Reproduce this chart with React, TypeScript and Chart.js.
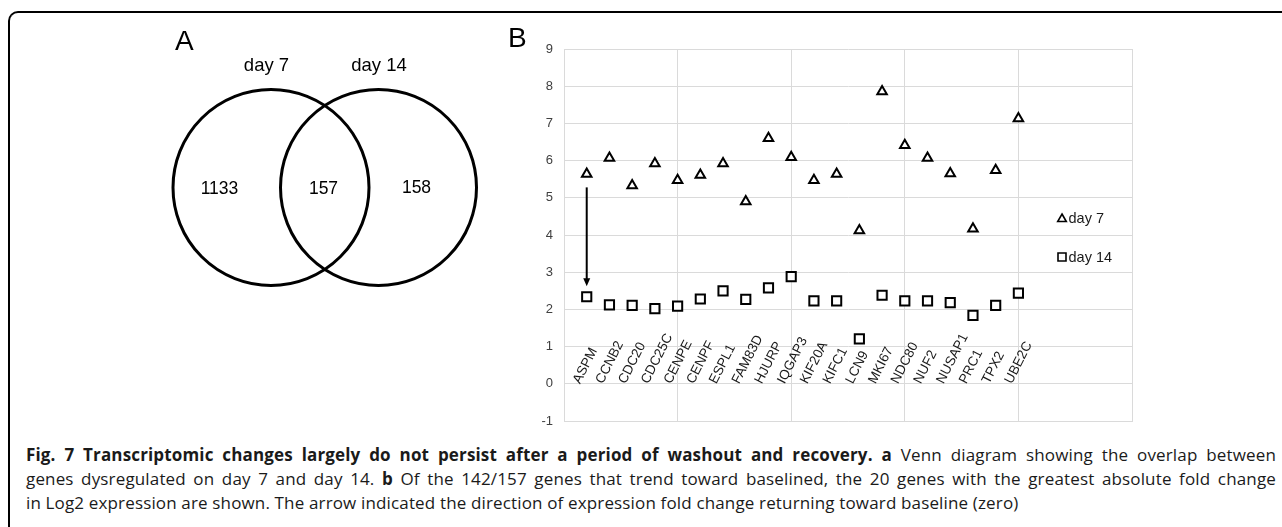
import React, { useEffect, useRef } from 'react';
import { Chart, registerables } from 'chart.js';

Chart.register(...registerables);

// ---------- data ----------
const GENES = ['ASPM', 'CCNB2', 'CDC20', 'CDC25C', 'CENPE', 'CENPF', 'ESPL1', 'FAM83D', 'HJURP', 'IQGAP3',
  'KIF20A', 'KIFC1', 'LCN9', 'MKI67', 'NDC80', 'NUF2', 'NUSAP1', 'PRC1', 'TPX2', 'UBE2C'];
const DAY7 = [5.64, 6.07, 5.33, 5.92, 5.47, 5.61, 5.92, 4.9, 6.6, 6.09, 5.47, 5.64, 4.12, 7.86, 6.41, 6.07, 5.65, 4.17, 5.74, 7.13];
const DAY14 = [2.34, 2.12, 2.11, 2.02, 2.09, 2.28, 2.5, 2.27, 2.58, 2.88, 2.23, 2.23, 1.21, 2.38, 2.23, 2.23, 2.18, 1.84, 2.11, 2.44];
const SERIES = ['day 7', 'day 14'];
const Y_MIN = -1;
const Y_MAX = 9;
const Y_STEP = 1;
const X_MIN = 0;
const X_MAX = 25;
const X_STEP = 5;
const ARROW_GENE = 0;
const ARROW_FROM = 5.28;
const ARROW_TO = 2.62;

const VENN_SETS = ['day 7', 'day 14'];
const VENN_COUNTS = [1133, 157, 158]; // only day 7, both, only day 14

// ---------- layout (not data) ----------
const VENN_LAYOUT = { cx: [271, 378.5], cy: 187.5, r: 98 };
const FONT = '"Liberation Sans", Arial, Helvetica, sans-serif';

const vennText = {
  id: 'vennText',
  afterDatasetsDraw(chart: any) {
    const { ctx } = chart;
    ctx.save();
    ctx.fillStyle = '#000';
    ctx.textBaseline = 'alphabetic';
    ctx.font = `28px ${FONT}`;
    ctx.textAlign = 'left';
    ctx.fillText('A', 175, 50);
    ctx.textAlign = 'center';
    ctx.font = `18.5px ${FONT}`;
    ctx.fillText(VENN_SETS[0], 266.5, 71);
    ctx.fillText(VENN_SETS[1], 379, 71);
    ctx.font = `17.5px ${FONT}`;
    ctx.fillText(String(VENN_COUNTS[0]), 219.5, 194);
    ctx.fillText(String(VENN_COUNTS[1]), 323.5, 194);
    ctx.fillText(String(VENN_COUNTS[2]), 416.5, 193);
    ctx.restore();
  },
};

const plotDecor = {
  id: 'plotDecor',
  afterDatasetsDraw(chart: any) {
    const { ctx, chartArea } = chart;
    const x = chart.scales.x;
    const y = chart.scales.y;
    ctx.save();
    // panel letter
    ctx.fillStyle = '#000';
    ctx.font = `28px ${FONT}`;
    ctx.textAlign = 'left';
    ctx.textBaseline = 'alphabetic';
    ctx.fillText('B', 8, 47);

    // category labels
    ctx.font = `13.5px ${FONT}`;
    ctx.fillStyle = '#1a1a1a';
    ctx.textAlign = 'left';
    ctx.textBaseline = 'middle';
    const ang = (-63 * Math.PI) / 180;
    GENES.forEach((g, i) => {
      const px = x.getPixelForValue(i + 1);
      const py = y.getPixelForValue(0);
      ctx.save();
      ctx.translate(px - 10, py - 1);
      ctx.rotate(ang);
      ctx.fillText(g, 0, 0);
      ctx.restore();
    });

    // arrow
    const ax = x.getPixelForValue(ARROW_GENE + 1);
    const ay1 = y.getPixelForValue(ARROW_FROM);
    const ay2 = y.getPixelForValue(ARROW_TO);
    ctx.strokeStyle = '#000';
    ctx.lineWidth = 2;
    ctx.beginPath();
    ctx.moveTo(ax, ay1);
    ctx.lineTo(ax, ay2 - 6);
    ctx.stroke();
    ctx.fillStyle = '#000';
    ctx.beginPath();
    ctx.moveTo(ax - 3.5, ay2 - 8);
    ctx.lineTo(ax + 3.5, ay2 - 8);
    ctx.lineTo(ax, ay2);
    ctx.closePath();
    ctx.fill();

    // legend
    const lx = chartArea.right - 70;
    const ly1 = chartArea.top + 169;
    const ly2 = chartArea.top + 208;
    ctx.lineWidth = 1.6;
    ctx.strokeStyle = '#000';
    ctx.fillStyle = '#fff';
    ctx.beginPath();
    ctx.moveTo(lx, ly1 - 4);
    ctx.lineTo(lx + 4.3, ly1 + 3.5);
    ctx.lineTo(lx - 4.3, ly1 + 3.5);
    ctx.closePath();
    ctx.fill();
    ctx.stroke();
    ctx.beginPath();
    ctx.rect(lx - 4, ly2 - 4, 8, 8);
    ctx.fill();
    ctx.stroke();
    ctx.fillStyle = '#1a1a1a';
    ctx.font = `14.5px ${FONT}`;
    ctx.textAlign = 'left';
    ctx.textBaseline = 'middle';
    ctx.fillText(SERIES[0], lx + 6.5, ly1 + 0.5);
    ctx.fillText(SERIES[1], lx + 6.5, ly2 + 0.5);
    ctx.restore();
  },
};

export default function App() {
  const vennRef = useRef<HTMLCanvasElement>(null);
  const plotRef = useRef<HTMLCanvasElement>(null);

  useEffect(() => {
    const charts: Chart[] = [];
    if (vennRef.current) {
      charts.push(
        new Chart(vennRef.current, {
          type: 'bubble',
          data: {
            datasets: [
              {
                label: 'venn',
                data: VENN_SETS.map((_, i) => ({ x: VENN_LAYOUT.cx[i], y: VENN_LAYOUT.cy, r: VENN_LAYOUT.r })),
                backgroundColor: 'rgba(0,0,0,0)',
                borderColor: '#000',
                borderWidth: 3,
                clip: false,
              },
            ],
          },
          options: {
            responsive: false,
            animation: false,
            events: [],
            layout: { padding: 0, autoPadding: false },
            plugins: { legend: { display: false }, tooltip: { enabled: false } },
            scales: {
              x: { type: 'linear', min: 0, max: 500, display: false },
              y: { type: 'linear', min: 0, max: 440, reverse: true, display: false },
            },
          } as any,
          plugins: [vennText],
        })
      );
    }
    if (plotRef.current) {
      charts.push(
        new Chart(plotRef.current, {
          type: 'scatter',
          data: {
            datasets: [
              {
                label: SERIES[0],
                data: DAY7.map((v, i) => ({ x: i + 1, y: v })),
                pointStyle: 'triangle',
                pointRadius: 5.5,
                pointBorderWidth: 2,
                pointBorderColor: '#000',
                pointBackgroundColor: '#fff',
                showLine: false,
              },
              {
                label: SERIES[1],
                data: DAY14.map((v, i) => ({ x: i + 1, y: v })),
                pointStyle: 'rect',
                pointRadius: 6.5,
                pointBorderWidth: 2,
                pointBorderColor: '#000',
                pointBackgroundColor: '#fff',
                showLine: false,
              },
            ],
          },
          options: {
            responsive: false,
            animation: false,
            events: [],
            layout: { padding: { left: 0, top: 49, right: 150, bottom: 19 }, autoPadding: false },
            plugins: { legend: { display: false }, tooltip: { enabled: false } },
            scales: {
              x: {
                type: 'linear',
                min: X_MIN,
                max: X_MAX,
                ticks: { stepSize: X_STEP, display: false },
                grid: { color: '#dadada', drawTicks: false, lineWidth: 1 },
                border: { color: '#dadada' },
                afterFit: (s: any) => {
                  s.height = 0;
                },
              },
              y: {
                type: 'linear',
                min: Y_MIN,
                max: Y_MAX,
                ticks: { stepSize: Y_STEP, padding: 11, color: '#404040', font: { family: FONT, size: 13 } },
                grid: { color: '#dadada', drawTicks: false, lineWidth: 1 },
                border: { color: '#dadada' },
                afterFit: (s: any) => {
                  s.width = 64;
                },
              },
            },
          } as any,
          plugins: [plotDecor],
        })
      );
    }
    return () => charts.forEach((c) => c.destroy());
  }, []);

  const capFont = '"Open Sans", "Noto Sans", sans-serif';
  const lineStyle: React.CSSProperties = {
    height: 24,
    lineHeight: '24px',
    textAlign: 'justify',
    textAlignLast: 'justify' as any,
    whiteSpace: 'normal',
  };

  return (
    <div style={{ position: 'fixed', left: 0, top: 0, width: 1282, height: 527, overflow: 'hidden', background: '#fff' }}>
      <div
        style={{
          position: 'absolute',
          left: 8,
          top: 11,
          width: 1400,
          height: 700,
          borderTop: '2.5px solid #000',
          borderLeft: '2.5px solid #000',
          borderTopLeftRadius: 10,
          boxSizing: 'border-box',
        }}
      />
      <canvas
        ref={vennRef}
        width={500}
        height={440}
        style={{ position: 'absolute', left: 0, top: 0, width: 500, height: 440 }}
      />
      <canvas
        ref={plotRef}
        width={782}
        height={440}
        style={{ position: 'absolute', left: 500, top: 0, width: 782, height: 440 }}
      />
      <div
        style={{
          position: 'absolute',
          left: 26,
          top: 443,
          width: 1250,
          fontFamily: capFont,
          fontSize: 17,
          letterSpacing: 0.15,
          color: '#1a1a1a',
        }}
      >
        <div style={lineStyle}>
          <b>Fig. 7 Transcriptomic changes largely do not persist after a period of washout and recovery. a</b> Venn
          diagram showing the overlap between
        </div>
        <div style={lineStyle}>
          genes dysregulated on day 7 and day 14. <b>b</b> Of the 142/157 genes that trend toward baselined, the 20
          genes with the greatest absolute fold change
        </div>
        <div style={{ height: 24, lineHeight: '24px', textAlign: 'left' }}>
          in Log2 expression are shown. The arrow indicated the direction of expression fold change returning toward
          baseline (zero)
        </div>
      </div>
    </div>
  );
}
